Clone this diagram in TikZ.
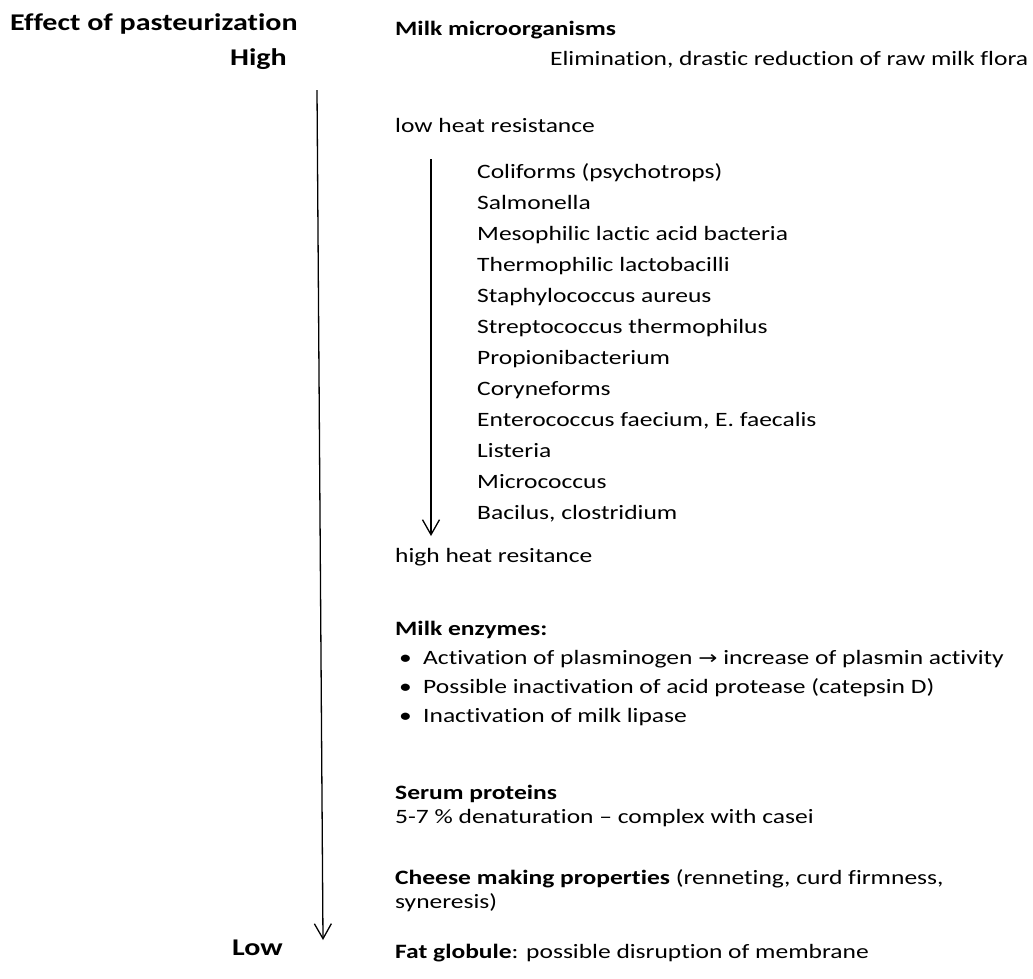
\documentclass[tikz,border=0pt]{standalone}
\usepackage{fontspec}
\setmainfont{Carlito}[FakeStretch=1.25, Ligatures=NoCommon]
\newfontfamily\arrowfont{DejaVu Sans}[FakeStretch=1.2]
\usetikzlibrary{arrows.meta, positioning}

\begin{document}
\begin{tikzpicture}[x=1pt, y=-1pt,
  txt/.style={anchor=base west, inner sep=0pt, font=\fontsize{20.4}{24}\selectfont},
  head/.style={txt, font=\fontsize{20.4}{24}\selectfont\bfseries},
  level/.style={anchor=base east, inner sep=0pt, font=\fontsize{24}{28}\selectfont\bfseries},
  scalearrow/.style={-{Straight Barb[length=15pt,width=17pt]}, line width=1.3pt}]
  \useasboundingbox (0,0) rectangle (1033,978);

  % Pasteurization scale
  \node[level, anchor=base west] (title) at (10,30) {Effect of pasteurization};
  \node[level] (high) at (287,65) {High};
  \node[level] (low) at (283,955) {Low};
  \coordinate (scaletop) at (317,90);
  \coordinate (scalebot) at (323,940);
  \draw[scalearrow] (scaletop) -- (scalebot);

  % Milk microorganisms
  \node[head] (micro) at (395,35) {Milk microorganisms};
  \node[txt] (elim) at (550,65) {Elimination, drastic reduction of raw milk flora};
  \node[txt] (lowres) at (395,132) {low heat resistance};
  \coordinate (restop) at (431,159);
  \coordinate (resbot) at (431,536);
  \draw[scalearrow] (restop) -- (resbot);
  \foreach \name [count=\i from 0] in {Coliforms (psychotrops), Salmonella,
      Mesophilic lactic acid bacteria, Thermophilic lactobacilli,
      Staphylococcus aureus, Streptococcus thermophilus, Propionibacterium,
      Coryneforms, {Enterococcus faecium, E. faecalis}, Listeria, Micrococcus,
      {Bacilus, clostridium}}
    \node[txt] (bug\i) at (477,{178+\i*31}) {\name};
  \node[txt] (highres) at (395,562) {high heat resitance};

  % Milk enzymes
  \node[head] (enz) at (395,635) {Milk enzymes:};
  \foreach \item [count=\i from 0] in {Activation of plasminogen {\arrowfont\fontsize{19}{22}\selectfont →} increase of plasmin activity,
      Possible inactivation of acid protease (catepsin D),
      Inactivation of milk lipase} {
    \node[txt] (dot\i) at (399,{664+\i*29}) {•};
    \node[txt] (enz\i) at (423,{664+\i*29}) {\item};
  }

  % Serum proteins, cheese, fat
  \node[head] (serum) at (395,799) {Serum proteins};
  \node[txt] (denat) at (395,823) {5-7 \% denaturation -- complex with casei};
  \node[txt] (cheese) at (395,884) {\textbf{Cheese making properties} (renneting, curd firmness,};
  \node[txt] (syn) at (395,908) {syneresis)};
  \node[txt] (fat) at (395,958) {\textbf{Fat globule}: possible disruption of membrane};
\end{tikzpicture}
\end{document}
